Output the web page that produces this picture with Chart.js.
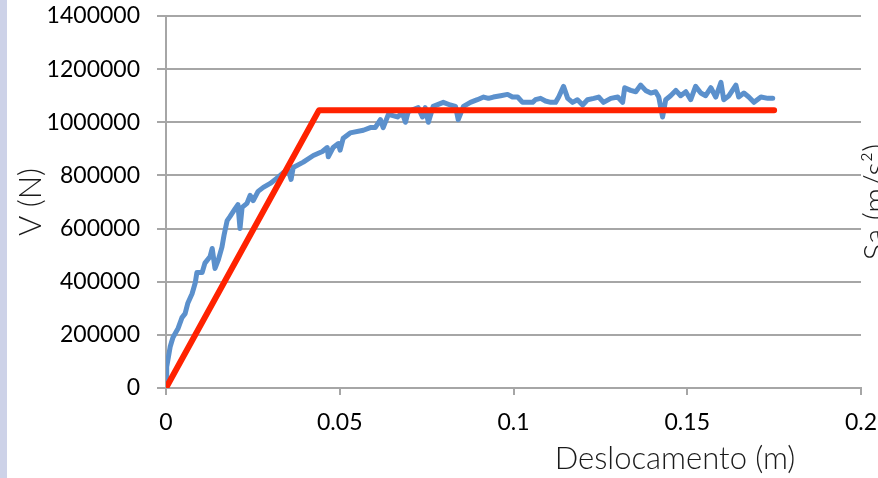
<!DOCTYPE html>
<html>
<head>
<meta charset="utf-8">
<script src="https://cdn.jsdelivr.net/npm/chart.js@4"></script>
<style>
  html, body { margin: 0; padding: 0; background: #ffffff; }
  #wrap { position: relative; width: 878px; height: 478px; overflow: hidden; }
  #strip { position: absolute; left: 0; top: 0; width: 7px; height: 478px; background: #cdd2e8; }
  canvas { position: absolute; left: 0; top: 0; }
</style>
</head>
<body>
<div id="wrap">
  <canvas id="c" width="878" height="478"></canvas>
  <div id="strip"></div>
</div>
<script>
// Pushover curve: displacement (m) and base shear (N)
const dispX = [
  0, 0.0002, 0.0012, 0.0020, 0.0035, 0.0046, 0.0055, 0.0063, 0.0075, 0.0084,
  0.0089, 0.0104, 0.0112, 0.0127, 0.0133, 0.0141, 0.0150, 0.0161, 0.0167, 0.0176,
  0.0184, 0.0199, 0.0207, 0.0213, 0.0219, 0.0233, 0.0242, 0.0251, 0.0265, 0.0280,
  0.0300, 0.0320, 0.0337, 0.0352, 0.0360, 0.0366, 0.0395, 0.0424, 0.0450, 0.0464,
  0.0467, 0.0481, 0.0496, 0.0501, 0.0510, 0.0530, 0.0568, 0.0588, 0.0602, 0.0617,
  0.0625, 0.0640, 0.0666, 0.0680, 0.0689, 0.0697, 0.0726, 0.0738, 0.0746, 0.0755,
  0.0769, 0.0798, 0.0818, 0.0833, 0.0841, 0.0856, 0.0876, 0.0896, 0.0914, 0.0928,
  0.0942, 0.0963, 0.0983, 0.0997, 0.1012, 0.1026, 0.1040, 0.1055, 0.1063, 0.1078,
  0.1092, 0.1107, 0.1121, 0.1130, 0.1144, 0.1156, 0.1170, 0.1184, 0.1199, 0.1213,
  0.1231, 0.1245, 0.1259, 0.1280, 0.1300, 0.1314, 0.1320, 0.1337, 0.1352, 0.1366,
  0.1380, 0.1395, 0.1409, 0.1418, 0.1429, 0.1438, 0.1452, 0.1467, 0.1481, 0.1496,
  0.1510, 0.1524, 0.1539, 0.1553, 0.1568, 0.1582, 0.1597, 0.1605, 0.1620, 0.1640,
  0.1648, 0.1663, 0.1677, 0.1692, 0.1712, 0.1732, 0.1746
];
const shearV = [
  0, 80000, 155000, 190000, 225000, 265000, 280000, 320000, 355000, 395000,
  435000, 435000, 470000, 495000, 525000, 450000, 480000, 530000, 575000, 630000,
  645000, 675000, 690000, 600000, 680000, 695000, 725000, 705000, 740000, 755000,
  770000, 790000, 810000, 820000, 785000, 830000, 850000, 875000, 890000, 905000,
  870000, 905000, 920000, 895000, 940000, 960000, 970000, 980000, 980000, 1010000,
  980000, 1030000, 1020000, 1035000, 1000000, 1040000, 1055000, 1020000, 1055000, 1000000,
  1060000, 1075000, 1065000, 1060000, 1010000, 1060000, 1075000, 1085000, 1095000, 1090000,
  1095000, 1100000, 1105000, 1095000, 1095000, 1075000, 1075000, 1075000, 1085000, 1090000,
  1080000, 1075000, 1075000, 1095000, 1135000, 1090000, 1075000, 1085000, 1065000, 1085000,
  1090000, 1095000, 1075000, 1090000, 1095000, 1075000, 1130000, 1120000, 1115000, 1140000,
  1120000, 1110000, 1115000, 1095000, 1020000, 1085000, 1100000, 1120000, 1100000, 1115000,
  1085000, 1135000, 1110000, 1100000, 1130000, 1095000, 1150000, 1085000, 1100000, 1140000,
  1095000, 1110000, 1095000, 1075000, 1095000, 1090000, 1090000
];

// Idealised bilinear curve
const bilinearX = [0, 0.044, 0.175];
const bilinearV = [0, 1045000, 1045000];

// Axis ticks
const xTicks = [0, 0.05, 0.1, 0.15, 0.2];
const xTickLabels = ['0', '0.05', '0.1', '0.15', '0.2'];
const yTicks = [0, 200000, 400000, 600000, 800000, 1000000, 1200000, 1400000];
const yTickLabels = ['0', '200000', '400000', '600000', '800000', '1000000', '1200000', '1400000'];

// Axis titles
const xTitle = 'Deslocamento (m)';
const yTitle = 'V (N)';
const y2Title = 'Sa (m/s\u00B2)';

const toPoints = (xs, ys) => xs.map((x, i) => ({ x: x, y: ys[i] }));

const titleFont = '300 31px "Lato", "Open Sans", sans-serif';

const axisTitles = {
  id: 'axisTitles',
  afterDraw(chart) {
    const ctx = chart.ctx;
    const area = chart.chartArea;
    const midY = (area.top + area.bottom) / 2;
    ctx.save();
    ctx.fillStyle = '#1a1a1a';
    ctx.font = titleFont;
    ctx.textAlign = 'center';
    ctx.textBaseline = 'middle';
    // bottom title
    ctx.fillText(xTitle, area.left + 509, area.bottom + 71);
    // left title
    ctx.save();
    ctx.translate(area.left - 135, midY);
    ctx.rotate(-Math.PI / 2);
    ctx.fillText(yTitle, 0, 0);
    ctx.restore();
    // right (secondary) title
    ctx.save();
    ctx.translate(area.right + 15, midY);
    ctx.rotate(-Math.PI / 2);
    ctx.fillText(y2Title, 0, 0);
    ctx.restore();
    ctx.restore();
  }
};

new Chart(document.getElementById('c'), {
  type: 'scatter',
  data: {
    datasets: [
      {
        label: 'Bilinear',
        data: toPoints(bilinearX, bilinearV),
        showLine: true,
        borderColor: '#ff2200',
        backgroundColor: '#ff2200',
        borderWidth: 6,
        pointRadius: 0,
        tension: 0,
        borderJoinStyle: 'round',
        borderCapStyle: 'round'
      },
      {
        label: 'Pushover',
        data: toPoints(dispX, shearV),
        showLine: true,
        borderColor: '#5b90cc',
        backgroundColor: '#5b90cc',
        borderWidth: 5,
        pointRadius: 0,
        tension: 0,
        borderJoinStyle: 'round',
        borderCapStyle: 'round'
      }
    ]
  },
  options: {
    responsive: false,
    animation: false,
    layout: { padding: { top: 16, right: 17, left: 0, bottom: 0 } },
    plugins: {
      legend: { display: false },
      tooltip: { enabled: false }
    },
    scales: {
      x: {
        type: 'linear',
        min: 0,
        max: 0.2,
        afterBuildTicks(scale) { scale.ticks = xTicks.map(v => ({ value: v })); },
        afterFit(scale) {
          scale.height = 90;
          scale.paddingLeft = 0;
          scale.paddingRight = 0;
        },
        ticks: {
          callback: (v, i) => xTickLabels[i],
          color: '#000000',
          font: { family: '"Lato", "Open Sans", sans-serif', size: 23 },
          padding: 14,
          maxRotation: 0,
          autoSkip: false
        },
        grid: {
          drawOnChartArea: false,
          drawTicks: true,
          tickLength: 7,
          color: '#a6a6a6',
          lineWidth: 2
        },
        border: { display: true, color: '#a6a6a6', width: 2 }
      },
      y: {
        type: 'linear',
        min: 0,
        max: 1400000,
        afterBuildTicks(scale) { scale.ticks = yTicks.map(v => ({ value: v })); },
        afterFit(scale) {
          scale.width = 166;
          scale.paddingTop = 0;
          scale.paddingBottom = 0;
        },
        ticks: {
          callback: (v, i) => yTickLabels[i],
          color: '#000000',
          font: { family: '"Lato", "Open Sans", sans-serif', size: 23 },
          padding: 17,
          autoSkip: false
        },
        grid: {
          drawTicks: true,
          tickLength: 9,
          color: '#a6a6a6',
          lineWidth: 2
        },
        border: { display: true, color: '#a6a6a6', width: 2 }
      }
    }
  },
  plugins: [axisTitles]
});
</script>
</body>
</html>
